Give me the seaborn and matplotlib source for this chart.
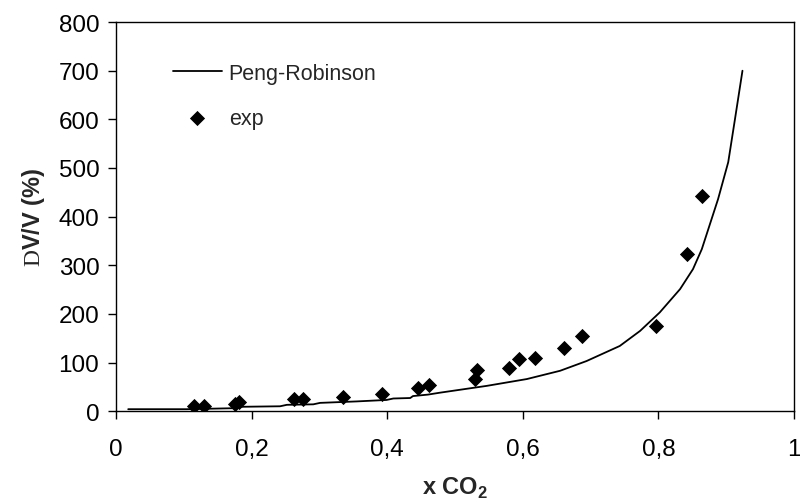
import matplotlib
matplotlib.use('Agg')
import matplotlib.pyplot as plt
from matplotlib.ticker import FuncFormatter

import numpy as np
import pandas as pd
import seaborn as sns

# Peng-Robinson model curve
pr_x = [0.018, 0.104, 0.173, 0.187, 0.242, 0.252, 0.291, 0.301, 0.355, 0.399,
        0.409, 0.434, 0.438, 0.46, 0.478, 0.547, 0.606, 0.655, 0.694, 0.743,
        0.773, 0.802, 0.832, 0.851, 0.864, 0.888, 0.903, 0.913, 0.924]
pr_y = [4, 4, 6, 9, 10, 13, 14, 17, 20, 23,
        26, 27, 31, 34, 38, 52, 66, 83, 103, 134,
        165, 203, 251, 292, 333, 436, 512, 601, 700]

# experimental points
exp_x = [0.115, 0.130, 0.176, 0.181, 0.263, 0.276, 0.335, 0.393, 0.446, 0.462,
         0.529, 0.533, 0.579, 0.595, 0.618, 0.661, 0.688, 0.796, 0.842, 0.865]
exp_y = [11, 11, 14, 19, 25, 25, 29, 36, 47, 54,
         66, 85, 88, 107, 110, 129, 154, 176, 324, 442]

x_ticks = [0, 0.2, 0.4, 0.6, 0.8, 1.0]
y_ticks = [0, 100, 200, 300, 400, 500, 600, 700, 800]


def comma(v, pos):
    s = ('%g' % v)
    return s.replace('.', ',')


def main():
    sns.set_style('ticks')
    plt.rcParams['font.family'] = ['Liberation Sans', 'DejaVu Sans']
    plt.rcParams['mathtext.fontset'] = 'custom'
    plt.rcParams['mathtext.rm'] = 'Liberation Serif'
    plt.rcParams['mathtext.bf'] = 'Liberation Sans:bold'
    plt.rcParams['font.size'] = 15

    fig = plt.figure(figsize=(8, 5.02), dpi=100)
    ax = fig.add_axes([0.145, 0.179, 0.8475, 0.775])

    pr = pd.DataFrame({'x': pr_x, 'y': pr_y})
    ex = pd.DataFrame({'x': exp_x, 'y': exp_y})
    sns.lineplot(data=pr, x='x', y='y', ax=ax, color='black', lw=1.3,
                 label='Peng-Robinson', sort=False)
    sns.scatterplot(data=ex, x='x', y='y', ax=ax, color='black', marker='D',
                    s=60, edgecolor='black', linewidth=0, label='exp', zorder=3)

    ax.set_xlim(0, 1)
    ax.set_ylim(0, 800)
    ax.set_xticks(x_ticks)
    ax.set_yticks(y_ticks)
    ax.xaxis.set_major_formatter(FuncFormatter(comma))
    ax.tick_params(direction='out', length=6, width=1, colors='black', labelsize=17.5)
    ax.tick_params(axis='y', pad=6)
    ax.tick_params(axis='x', pad=13)
    for sp in ax.spines.values():
        sp.set_visible(True)
        sp.set_color('black')
        sp.set_linewidth(1)

    ax.set_xlabel(r'x CO$_\mathbf{2}$', fontweight='bold', fontsize=17, labelpad=11)
    ax.set_ylabel(r'$\mathrm{D}$V/V (%)', fontweight='bold', fontsize=17, labelpad=8)

    ax.legend(loc='upper left', bbox_to_anchor=(0.055, 0.945), frameon=False,
              handlelength=2.3, handletextpad=0.3, labelspacing=1.1, fontsize=15.5)

    fig.savefig('out.png', dpi=100)


if __name__ == '__main__':
    main()
